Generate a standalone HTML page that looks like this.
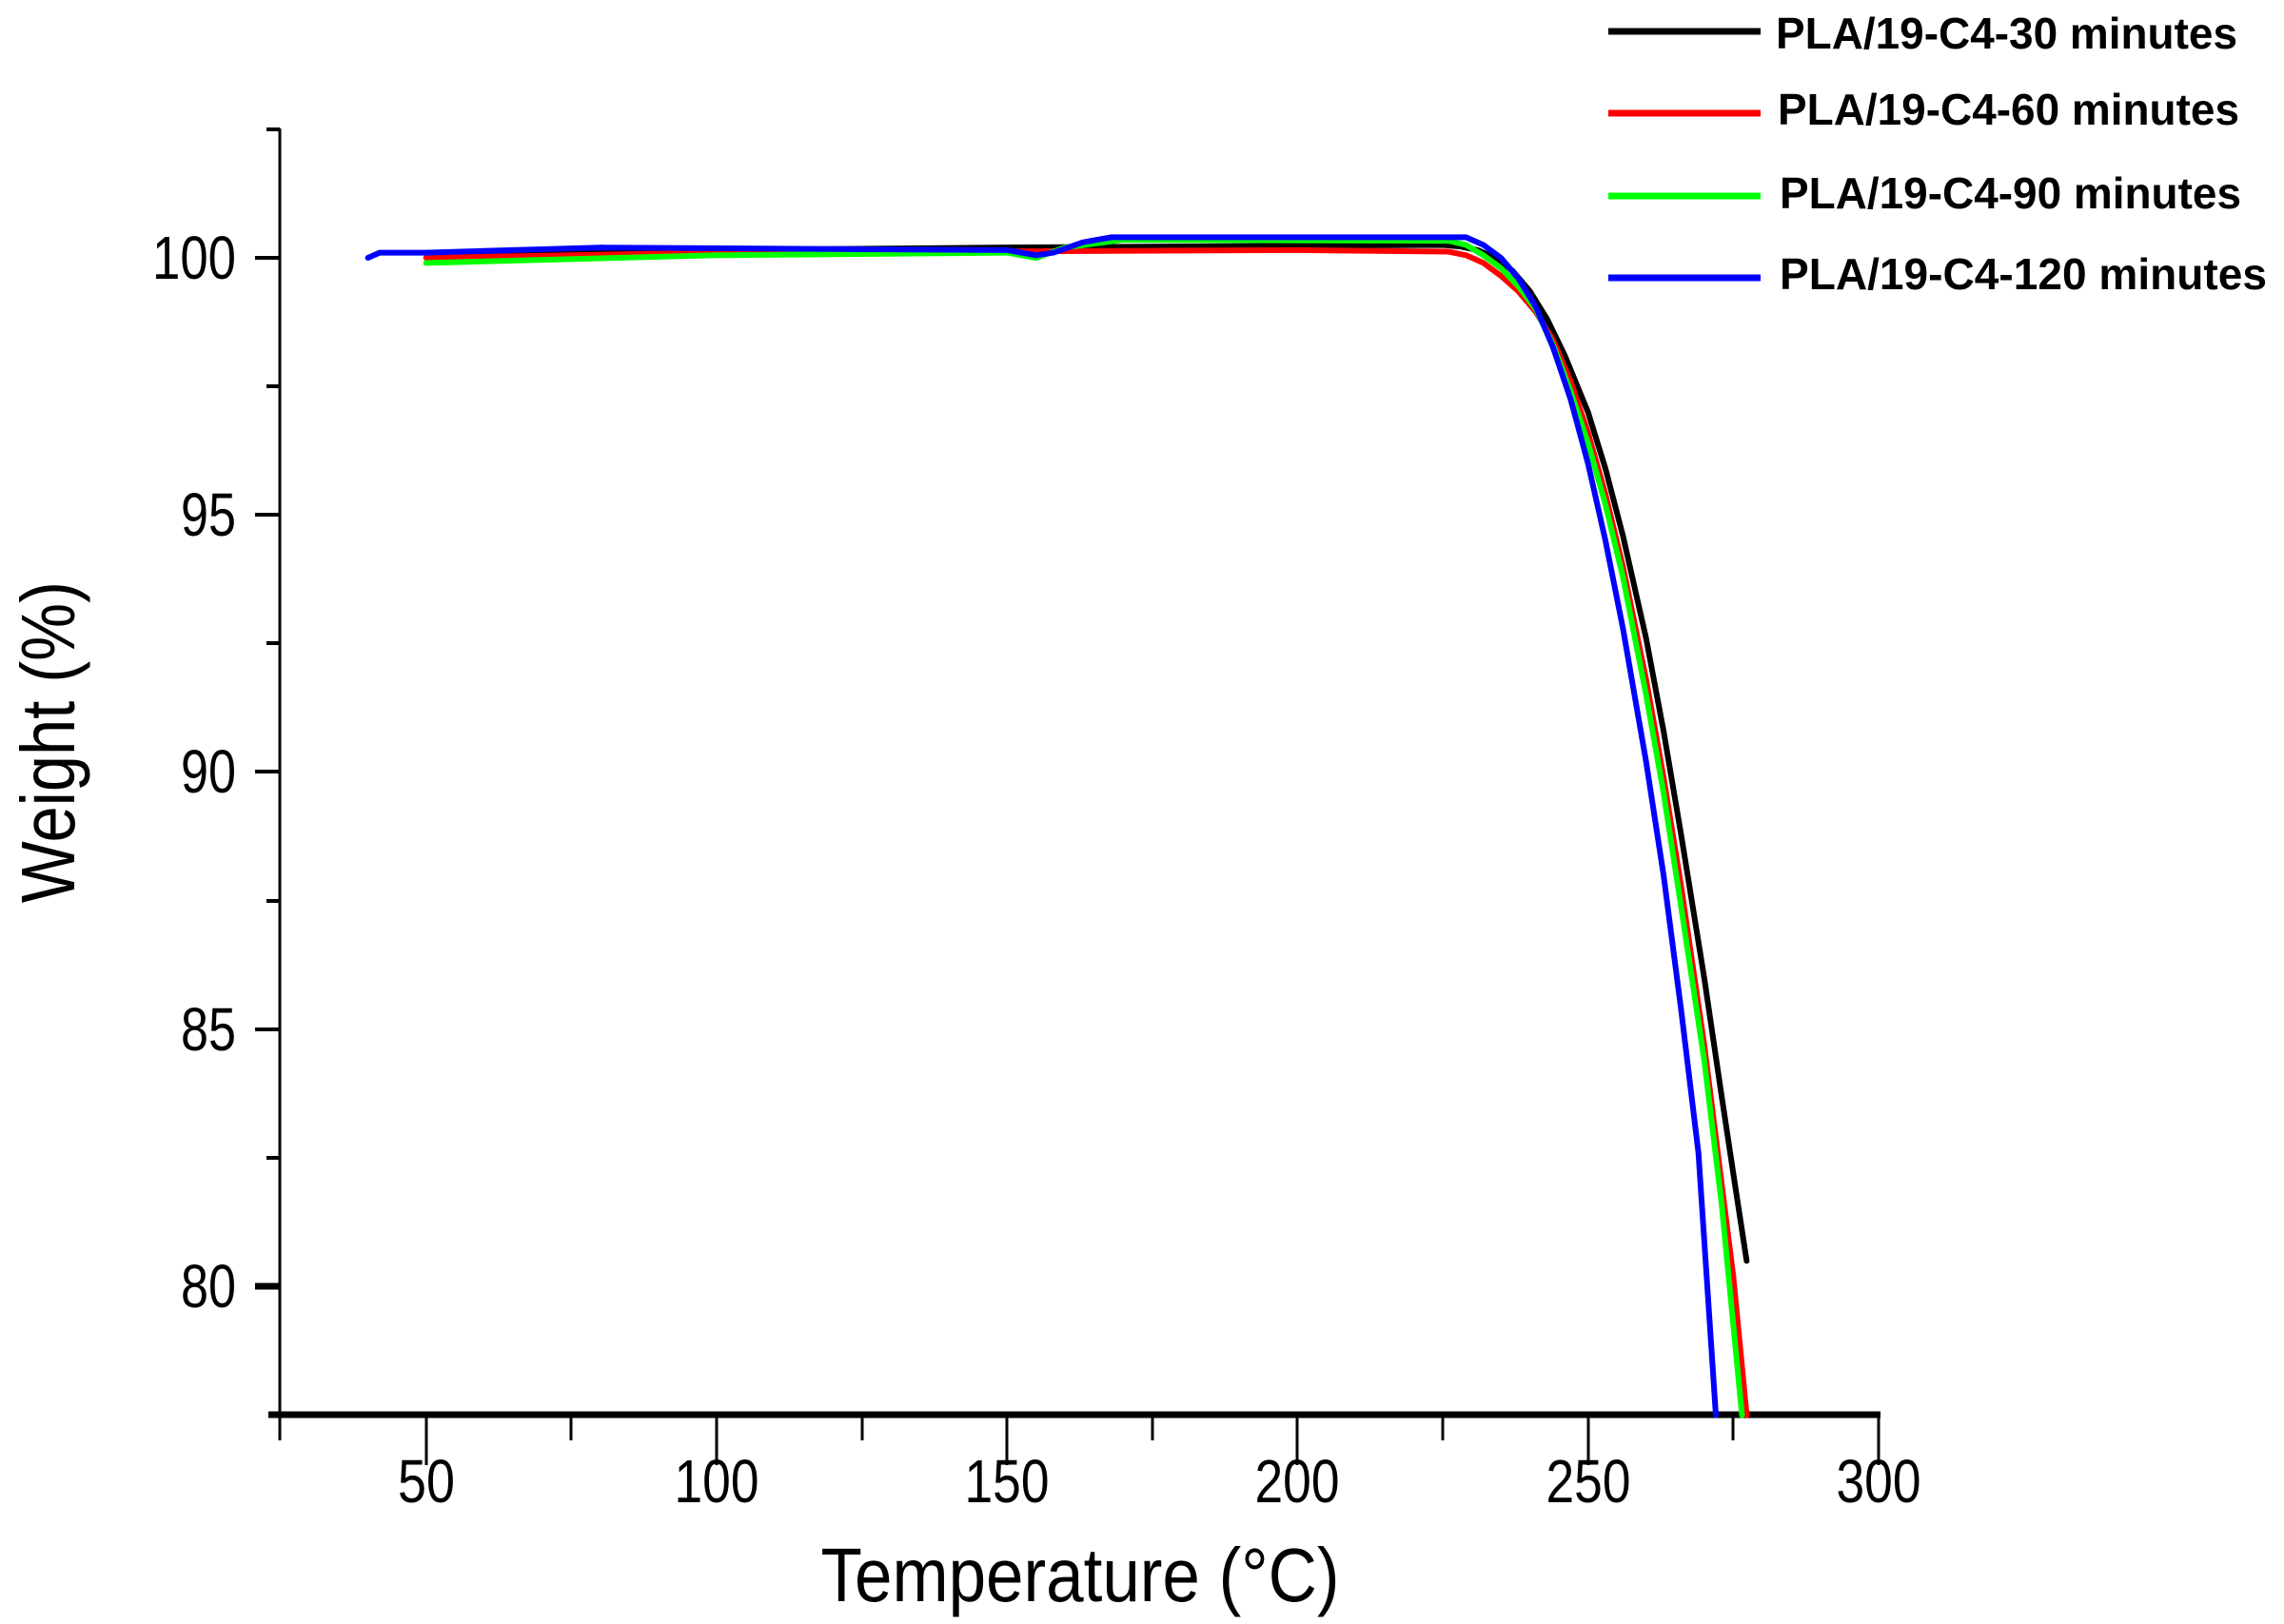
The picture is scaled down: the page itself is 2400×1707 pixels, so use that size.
<!DOCTYPE html>
<html><head><meta charset="utf-8"><style>
html,body{margin:0;padding:0;background:#fff;}
svg{display:block;}
</style></head><body>
<svg width="2400" height="1707" viewBox="0 0 2400 1707" xmlns="http://www.w3.org/2000/svg">
<rect width="2400" height="1707" fill="#fff"/>
<line x1="294" y1="135" x2="294" y2="1490" stroke="#000" stroke-width="3"/>
<line x1="282" y1="1487" x2="1976" y2="1487" stroke="#000" stroke-width="7"/>
<g stroke="#000" stroke-width="4">
<line x1="268" y1="271" x2="294" y2="271"/>
<line x1="268" y1="541" x2="294" y2="541"/>
<line x1="268" y1="811" x2="294" y2="811"/>
<line x1="268" y1="1082" x2="294" y2="1082"/>
<line x1="268" y1="1352" x2="294" y2="1352" stroke-width="7"/>
<line x1="280" y1="136" x2="294" y2="136"/>
<line x1="280" y1="406" x2="294" y2="406"/>
<line x1="280" y1="676" x2="294" y2="676"/>
<line x1="280" y1="947" x2="294" y2="947"/>
<line x1="280" y1="1217" x2="294" y2="1217"/>
</g>
<g stroke="#000" stroke-width="3">
<line x1="294" y1="1487" x2="294" y2="1514"/>
<line x1="448" y1="1487" x2="448" y2="1540"/>
<line x1="600" y1="1487" x2="600" y2="1514"/>
<line x1="753" y1="1487" x2="753" y2="1540"/>
<line x1="906" y1="1487" x2="906" y2="1514"/>
<line x1="1058" y1="1487" x2="1058" y2="1540"/>
<line x1="1211" y1="1487" x2="1211" y2="1514"/>
<line x1="1363" y1="1487" x2="1363" y2="1540"/>
<line x1="1516" y1="1487" x2="1516" y2="1514"/>
<line x1="1669" y1="1487" x2="1669" y2="1540"/>
<line x1="1821" y1="1487" x2="1821" y2="1514"/>
<line x1="1974" y1="1487" x2="1974" y2="1540"/>
</g>
<g font-family="Liberation Sans, sans-serif" font-size="64" fill="#000">
<g text-anchor="end">
<text x="248" y="293" textLength="88" lengthAdjust="spacingAndGlyphs">100</text>
<text x="248" y="563" textLength="58" lengthAdjust="spacingAndGlyphs">95</text>
<text x="248" y="833" textLength="58" lengthAdjust="spacingAndGlyphs">90</text>
<text x="248" y="1104" textLength="58" lengthAdjust="spacingAndGlyphs">85</text>
<text x="248" y="1374" textLength="58" lengthAdjust="spacingAndGlyphs">80</text>
</g>
<g text-anchor="middle">
<text x="448" y="1579" textLength="60" lengthAdjust="spacingAndGlyphs">50</text>
<text x="753" y="1579" textLength="89" lengthAdjust="spacingAndGlyphs">100</text>
<text x="1058" y="1579" textLength="89" lengthAdjust="spacingAndGlyphs">150</text>
<text x="1363" y="1579" textLength="89" lengthAdjust="spacingAndGlyphs">200</text>
<text x="1669" y="1579" textLength="89" lengthAdjust="spacingAndGlyphs">250</text>
<text x="1974" y="1579" textLength="89" lengthAdjust="spacingAndGlyphs">300</text>
</g>
<text x="1135" y="1683" font-size="80" text-anchor="middle" textLength="545" lengthAdjust="spacingAndGlyphs">Temperature (°C)</text>
<text transform="translate(78,780) rotate(-90)" font-size="80" text-anchor="middle" textLength="338" lengthAdjust="spacingAndGlyphs">Weight (%)</text>
</g>
<g transform="translate(142.45,5678) scale(6.105,-54.07)" fill="none" stroke-width="6" stroke-linejoin="round" stroke-linecap="round">
<polyline vector-effect="non-scaling-stroke" stroke="#000" points="50,100.1 150,100.2 225,100.25 228,100.22 231,100.15 234,100.0 237,99.75 240,99.35 243,98.8 246,98.1 250,97.0 253,95.9 256,94.6 260,92.6 263,90.8 266,88.8 270,86.0 273,83.7 275,82.2 277.3,80.5"/>
<polyline vector-effect="non-scaling-stroke" stroke="#f00" points="50,100.0 100,100.1 200,100.15 226,100.12 229,100.05 232,99.9 235,99.65 238,99.35 241,98.95 244,98.4 247,97.6 250,96.6 253,95.4 256,94.0 260,91.8 263,89.9 266,87.8 270,84.7 273,82.0 275,80.2 277.3,77.5"/>
<polyline vector-effect="non-scaling-stroke" stroke="#0f0" points="50,99.9 100,100.05 150,100.1 155,100.0 160,100.2 170,100.35 226,100.33 229,100.25 232,100.05 235,99.8 238,99.45 241,99.0 244,98.3 247,97.4 250,96.4 253,95.2 256,93.8 260,91.5 263,89.6 266,87.4 270,84.4 273,81.6 276.5,77.5"/>
<polyline vector-effect="non-scaling-stroke" stroke="#00f" points="40,100.0 42,100.1 50,100.1 80,100.2 150,100.15 155,100.05 158,100.1 163,100.3 168,100.4 226,100.4 229,100.4 232,100.25 235,100.0 238,99.6 241,99.05 244,98.25 247,97.25 250,96.0 253,94.5 256,92.8 260,90.2 263,88.0 266,85.4 269,82.6 272,77.5"/>
</g>
<g stroke-width="7">
<line x1="1690" y1="33" x2="1850" y2="33" stroke="#000"/>
<line x1="1690" y1="119" x2="1850" y2="119" stroke="#f00"/>
<line x1="1690" y1="206" x2="1850" y2="206" stroke="#0f0"/>
<line x1="1690" y1="292" x2="1850" y2="292" stroke="#00f"/>
</g>
<g font-family="Liberation Sans, sans-serif" font-weight="bold" font-size="46" fill="#000">
<text x="1866" y="51" textLength="485" lengthAdjust="spacingAndGlyphs">PLA/19-C4-30 minutes</text>
<text x="1868" y="131" textLength="485" lengthAdjust="spacingAndGlyphs">PLA/19-C4-60 minutes</text>
<text x="1870" y="219" textLength="485" lengthAdjust="spacingAndGlyphs">PLA/19-C4-90 minutes</text>
<text x="1870" y="304" textLength="512" lengthAdjust="spacingAndGlyphs">PLA/19-C4-120 minutes</text>
</g>
</svg>
</body></html>
